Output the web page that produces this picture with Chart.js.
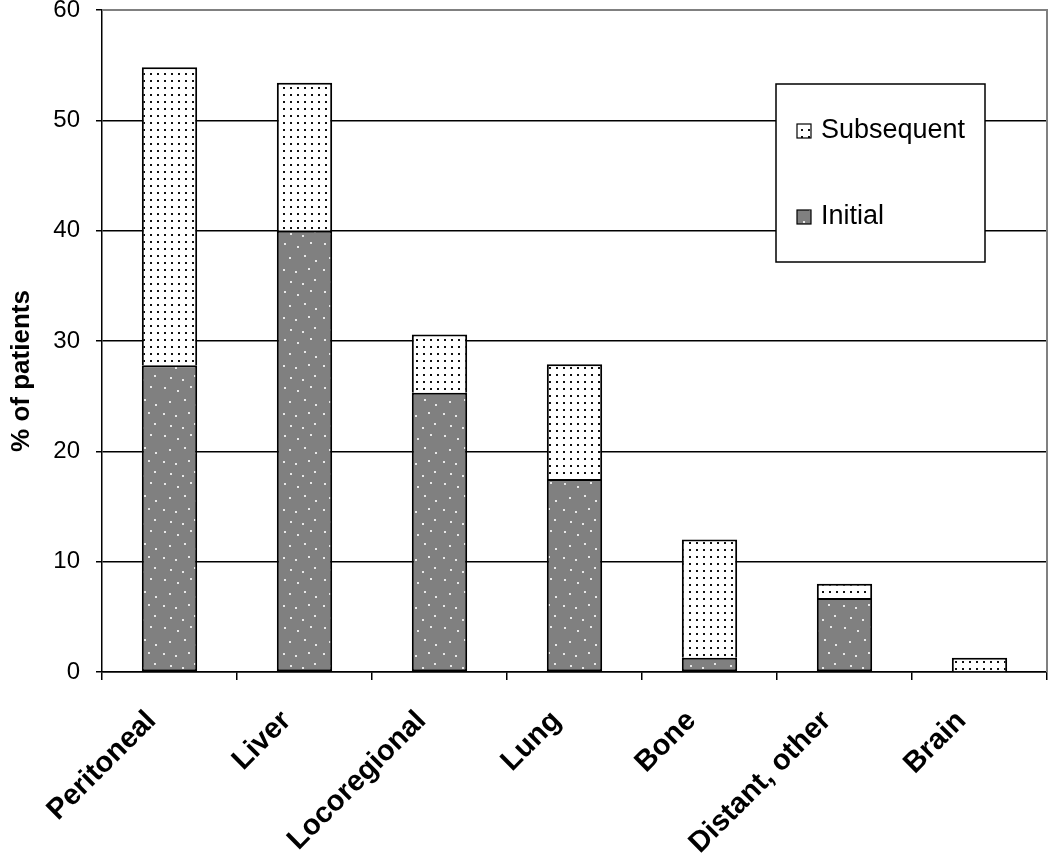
<!DOCTYPE html>
<html>
<head>
<meta charset="utf-8">
<script src="https://cdn.jsdelivr.net/npm/chart.js@4/dist/chart.umd.min.js"></script>
<style>
  html, body { margin: 0; padding: 0; background: #ffffff; }
  #wrap { width: 1050px; height: 859px; }
</style>
</head>
<body>
<div id="wrap"><canvas id="c" width="1050" height="859"></canvas></div>
<script>
const categories = ['Peritoneal', 'Liver', 'Locoregional', 'Lung', 'Bone', 'Distant, other', 'Brain'];
const initialValues = [27.8, 40.0, 25.3, 17.5, 1.3, 6.7, 0];
const subsequentValues = [27.0, 13.4, 5.3, 10.4, 10.7, 1.3, 1.3];
const seriesNames = ['Initial', 'Subsequent'];
const yTicks = [0, 10, 20, 30, 40, 50, 60];
const yTitle = '% of patients';

const FONT = '"Liberation Sans", Arial, sans-serif';

function makeSubsequentPattern(ctx) {
  const p = document.createElement('canvas');
  p.width = 7; p.height = 7;
  const g = p.getContext('2d');
  g.fillStyle = '#ffffff'; g.fillRect(0, 0, 7, 7);
  g.fillStyle = '#111111'; g.fillRect(3, 3, 2, 2);
  return ctx.createPattern(p, 'repeat');
}
function makeInitialPattern(ctx) {
  const p = document.createElement('canvas');
  p.width = 40; p.height = 48;
  const g = p.getContext('2d');
  g.fillStyle = '#808080'; g.fillRect(0, 0, 40, 48);
  g.fillStyle = '#e8e8e8';
  const dots = [[4,3],[17,6],[30,2],[9,17],[24,15],[35,20],[3,29],[15,31],[28,28],[10,41],[22,43],[34,39]];
  dots.forEach(d => g.fillRect(d[0], d[1], 2, 2));
  return ctx.createPattern(p, 'repeat');
}

const canvas = document.getElementById('c');
const ctx = canvas.getContext('2d');
const subPat = makeSubsequentPattern(ctx);
const iniPat = makeInitialPattern(ctx);

const decorPlugin = {
  id: 'decor',
  afterDraw(chart) {
    const c = chart.ctx;
    const ca = chart.chartArea;
    // gray plot-area border on top and right
    c.save();
    c.strokeStyle = '#808080';
    c.lineWidth = 2;
    c.beginPath();
    c.moveTo(ca.left, ca.top);
    c.lineTo(ca.right, ca.top);
    c.lineTo(ca.right, ca.bottom);
    c.stroke();
    c.restore();

    // y axis title
    c.save();
    c.translate(22, 371);
    c.rotate(-Math.PI / 2);
    c.font = 'bold 26px ' + FONT;
    c.fillStyle = '#000000';
    c.textAlign = 'center';
    c.textBaseline = 'middle';
    c.fillText(yTitle, 0, 0);
    c.restore();

    // legend box
    const x = 776, y = 84, w = 209, h = 178;
    c.save();
    c.fillStyle = '#ffffff';
    c.fillRect(x, y, w, h);
    c.strokeStyle = '#000000';
    c.lineWidth = 1.5;
    c.strokeRect(x, y, w, h);
    const items = [
      { label: chart.data.datasets[1].label, fill: subPat, cy: 131 },
      { label: chart.data.datasets[0].label, fill: iniPat, cy: 217 }
    ];
    c.font = '27px ' + FONT;
    c.textBaseline = 'middle';
    c.textAlign = 'left';
    items.forEach(it => {
      c.fillStyle = it.fill;
      c.fillRect(797, it.cy - 7, 14, 14);
      c.strokeStyle = '#000000';
      c.lineWidth = 1.2;
      c.strokeRect(797, it.cy - 7, 14, 14);
      c.fillStyle = '#000000';
      c.fillText(it.label, 821, it.cy);
    });
    c.restore();
  }
};

new Chart(canvas, {
  type: 'bar',
  data: {
    labels: categories,
    datasets: [
      {
        label: seriesNames[0],
        data: initialValues,
        backgroundColor: iniPat,
        borderColor: '#000000',
        borderWidth: 2,
        borderSkipped: false,
        barPercentage: 0.41,
        categoryPercentage: 1.0
      },
      {
        label: seriesNames[1],
        data: subsequentValues,
        backgroundColor: subPat,
        borderColor: '#000000',
        borderWidth: { top: 2, left: 2, right: 2, bottom: 0 },
        borderSkipped: false,
        barPercentage: 0.41,
        categoryPercentage: 1.0
      }
    ]
  },
  options: {
    responsive: false,
    animation: false,
    devicePixelRatio: 1,
    layout: { padding: { top: 10, right: 3, left: 0, bottom: 0 } },
    plugins: {
      legend: { display: false },
      tooltip: { enabled: false }
    },
    scales: {
      x: {
        stacked: true,
        offset: true,
        grid: {
          offset: true,
          drawOnChartArea: false,
          drawTicks: true,
          tickLength: 8,
          color: '#000000',
          lineWidth: 1.5
        },
        border: { display: true, color: '#000000', width: 1.5 },
        ticks: {
          color: '#000000',
          font: { family: FONT, size: 29, weight: 'bold' },
          minRotation: 45,
          maxRotation: 45,
          autoSkip: false,
          padding: 24,
          labelOffset: -18
        },
        afterFit(scale) { scale.height = 187; scale.paddingLeft = 0; scale.paddingRight = 0; }
      },
      y: {
        stacked: true,
        min: 0,
        max: 60,
        afterBuildTicks(scale) { scale.ticks = yTicks.map(v => ({ value: v })); },
        grid: {
          color: (c) => (c.tick && c.tick.value === 60 ? '#808080' : '#000000'),
          tickColor: '#000000',
          lineWidth: 1.5,
          drawTicks: true,
          tickLength: 6
        },
        border: { display: true, color: '#000000', width: 1.5 },
        ticks: {
          color: '#000000',
          font: { family: FONT, size: 24 },
          padding: 16
        },
        afterFit(scale) { scale.width = 102; scale.paddingTop = 0; scale.paddingBottom = 0; }
      }
    }
  },
  plugins: [decorPlugin]
});
</script>
</body>
</html>
